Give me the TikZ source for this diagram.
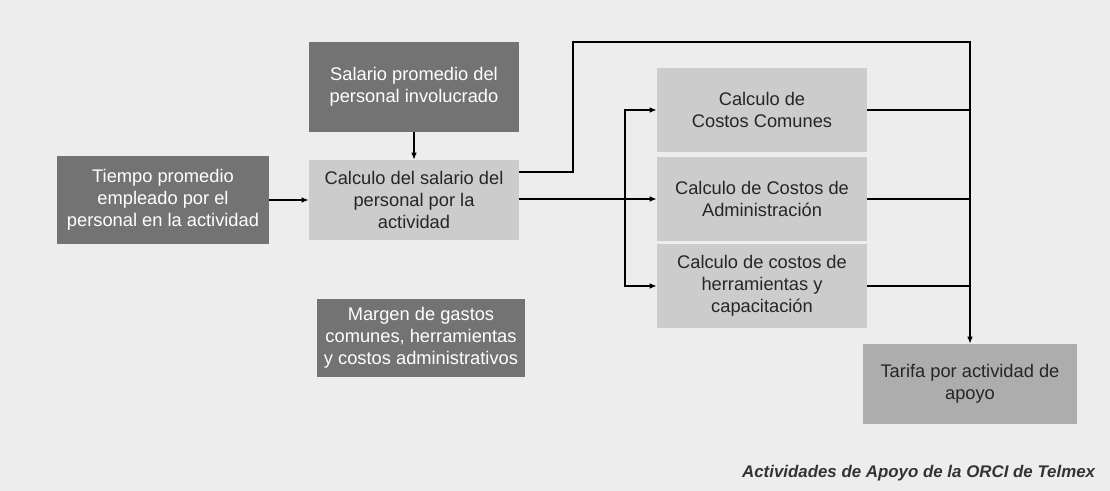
\documentclass[tikz,border=0pt]{standalone}
\usepackage{fontspec}
\setmainfont{Liberation Sans}
\usetikzlibrary{arrows.meta}
\begin{document}
\begin{tikzpicture}[x=0.025cm,y=-0.025cm]
		\tikzset{caja/.style = {shape=rectangle, align=center, inner sep=2pt, font=\fontsize{13}{15.6}\selectfont},
			oscura/.style = {caja, fill=black!55, text=white},
			clara/.style = {caja, fill=black!20, text=black!85},
			flecha/.style = {-{Latex[length=5pt,width=4pt]}, line width=0.9pt},
			linea/.style = {line width=0.9pt}}

		\fill[black!7] (0,0) rectangle (1110,491);

		\node[oscura, minimum width=5.3cm, minimum height=2.22cm] (tiempo) at (163,200) {Tiempo promedio\\empleado por el\\personal en la actividad};
		\node[oscura, minimum width=5.25cm, minimum height=2.25cm] (salario) at (414,87) {Salario promedio del\\personal involucrado};
		\node[clara, minimum width=5.25cm, minimum height=2cm] (calcsal) at (414,200) {Calculo del salario del\\personal por la\\actividad};
		\node[oscura, minimum width=5.2cm, minimum height=1.93cm] (margen) at (421,338) {Margen de gastos\\comunes, herramientas\\y costos administrativos};

		\node[clara, minimum width=5.25cm, minimum height=2.1cm] (comunes) at (762,110) {Calculo de\\Costos Comunes};
		\node[clara, minimum width=5.25cm, minimum height=2.1cm] (admin) at (762,199) {Calculo de Costos de\\Administración};
		\node[clara, minimum width=5.25cm, minimum height=2.1cm] (herr) at (762,286) {Calculo de costos de\\herramientas y\\capacitación};

		\node[caja, fill=black!32, text=black!85, minimum width=5.33cm, minimum height=2cm] (tarifa) at (970,384) {Tarifa por actividad de\\apoyo};

		\node[anchor=east, font=\fontsize{12}{14}\selectfont\bfseries\itshape, text=black!80] (titulo) at (1100,473) {Actividades de Apoyo de la ORCI de Telmex};

		\coordinate (sube) at (573,172);
		\coordinate (arriba) at (573,42);
		\coordinate (rama) at (625,199);



		\draw[flecha] (tiempo)--(calcsal);
		\draw[flecha] (salario)--(calcsal);

		\draw[flecha] (calcsal.east |- sube)--(sube)--(arriba) -| (tarifa.north);
		\draw[flecha] (calcsal.east |- admin)--(admin);
		\draw[flecha] (rama) |- (comunes);
		\draw[flecha] (rama) |- (herr);

		\draw[linea] (comunes)--(comunes -| tarifa.north);
		\draw[linea] (admin)--(admin -| tarifa.north);
		\draw[linea] (herr)--(herr -| tarifa.north);

	\end{tikzpicture}
\end{document}
